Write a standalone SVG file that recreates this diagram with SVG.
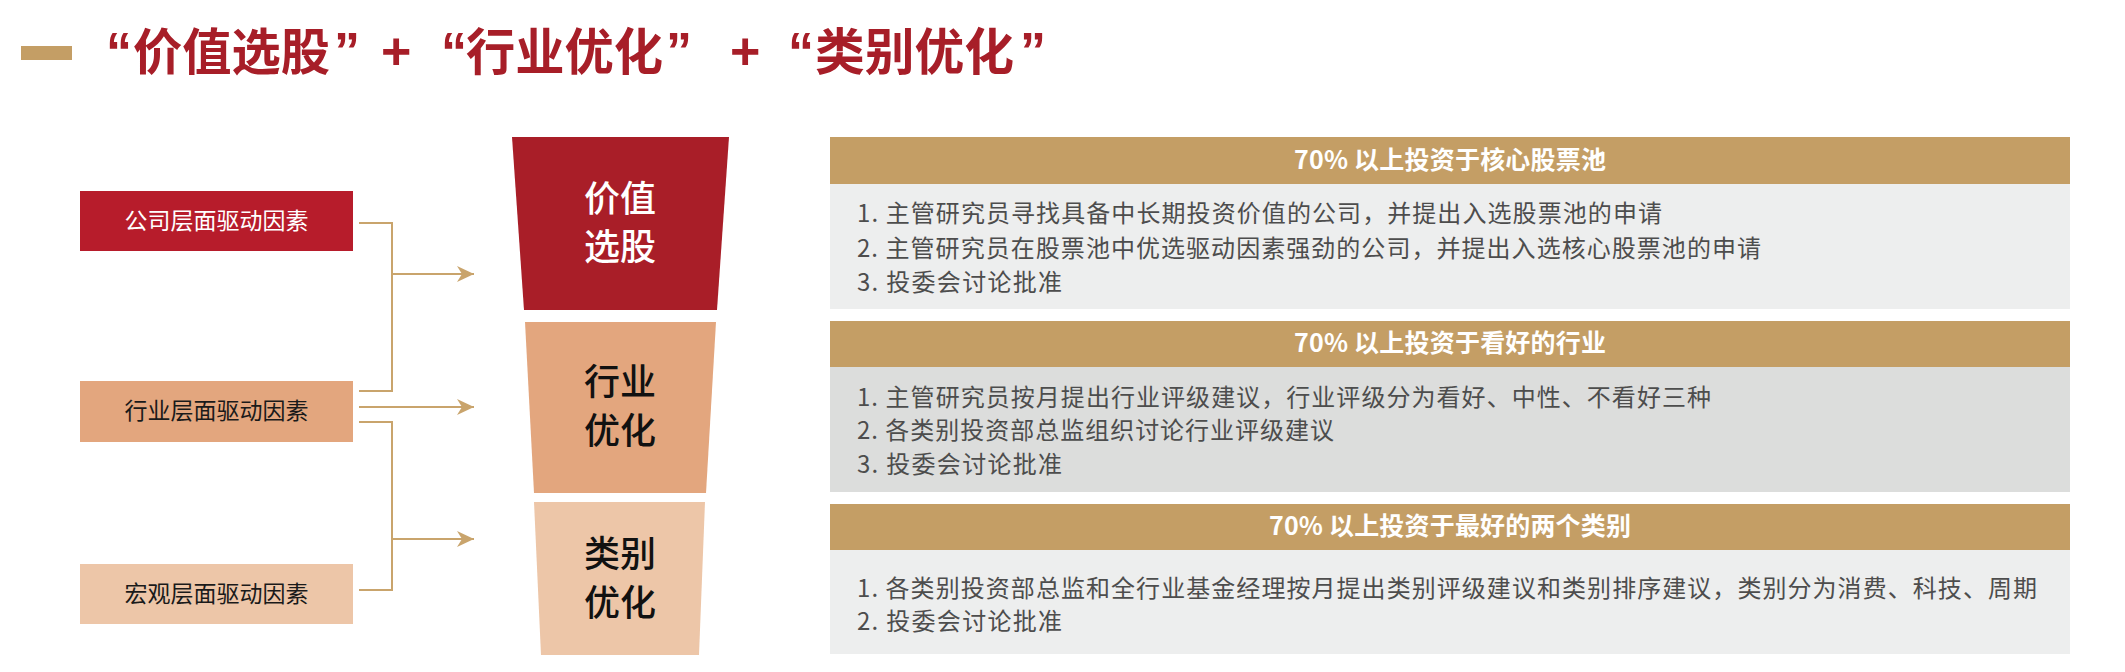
<svg xmlns="http://www.w3.org/2000/svg" width="2125" height="672" viewBox="0 0 2125 672">
<style>
.title{font-family:"Noto Sans CJK SC","Liberation Sans",sans-serif;font-size:50px;font-weight:700;fill:#A71E28}
.qt{font-family:"Liberation Sans","Noto Sans CJK SC",sans-serif;font-size:52px;font-weight:700;fill:#A71E28}
.lbl{font-family:"Noto Sans CJK SC","Liberation Sans",sans-serif;font-size:23px;text-anchor:middle}
.fun{font-family:"Noto Sans CJK SC","Liberation Sans",sans-serif;font-size:36px;font-weight:500;text-anchor:middle}
.hdr{font-family:"Noto Sans CJK SC","Liberation Sans",sans-serif;font-size:25px;font-weight:700;fill:#FFFFFF;text-anchor:middle}
.body{font-family:"Noto Sans CJK SC","Liberation Sans",sans-serif;font-size:24px;fill:#4D4D4D}
.conn{fill:none;stroke:#C9A46C;stroke-width:2}
.gold{fill:#C49E65}
</style>
<defs>
<marker id="arr" markerUnits="userSpaceOnUse" markerWidth="18" markerHeight="16" refX="17" refY="8" orient="auto">
<path d="M0,0 L17,8 L0,16 L5,8 Z" fill="#C9A46C"/>
</marker>
</defs>
<rect width="2125" height="672" fill="#FFFFFF"/>

<g id="title">
<rect x="21" y="46" width="51" height="14" class="gold"/>
<text x="106" y="69" class="qt">“</text>
<text x="133" y="70" class="title" textLength="197" lengthAdjust="spacingAndGlyphs">价值选股</text>
<text x="334" y="69" class="qt">”</text>
<text x="381" y="69" class="qt">+</text>
<text x="441" y="69" class="qt">“</text>
<text x="466" y="70" class="title" textLength="197" lengthAdjust="spacingAndGlyphs">行业优化</text>
<text x="666" y="69" class="qt">”</text>
<text x="730" y="69" class="qt">+</text>
<text x="788" y="69" class="qt">“</text>
<text x="815" y="70" class="title" textLength="199" lengthAdjust="spacingAndGlyphs">类别优化</text>
<text x="1020" y="69" class="qt">”</text>
</g>

<g id="driver-company">
<rect x="80" y="191" width="273" height="60" fill="#B71C2B"/>
<text x="216.5" y="229" class="lbl" fill="#FFFFFF">公司层面驱动因素</text>
</g>
<g id="driver-industry">
<rect x="80" y="381" width="273" height="61" fill="#E3A67E"/>
<text x="216.5" y="419" class="lbl" fill="#1A1A1A">行业层面驱动因素</text>
</g>
<g id="driver-macro">
<rect x="80" y="564" width="273" height="60" fill="#EDC6A8"/>
<text x="216.5" y="602" class="lbl" fill="#1A1A1A">宏观层面驱动因素</text>
</g>

<g id="connectors">
<path class="conn" d="M359,223 H392 V391 H359"/>
<path class="conn" d="M392,274 H474" marker-end="url(#arr)"/>
<path class="conn" d="M359,407 H474" marker-end="url(#arr)"/>
<path class="conn" d="M359,422 H392 V590 H359"/>
<path class="conn" d="M392,539 H474" marker-end="url(#arr)"/>
</g>

<g id="funnel-value">
<polygon points="512,137 729,137 717,310 524,310" fill="#A91E28"/>
<text x="620" y="212" class="fun" fill="#FFFFFF">价值</text>
<text x="620" y="260" class="fun" fill="#FFFFFF">选股</text>
</g>
<g id="funnel-industry">
<polygon points="525,322 716,322 706,493 534,493" fill="#E3A67E"/>
<text x="620" y="395" class="fun" fill="#111111">行业</text>
<text x="620" y="444" class="fun" fill="#111111">优化</text>
</g>
<g id="funnel-category">
<polygon points="534,502 705,502 699,655 541,655" fill="#EDC6A8"/>
<text x="620" y="567" class="fun" fill="#111111">类别</text>
<text x="620" y="616" class="fun" fill="#111111">优化</text>
</g>

<g id="panel-value">
<rect x="830" y="137" width="1240" height="47" class="gold"/>
<rect x="830" y="184" width="1240" height="125" fill="#EDEEEE"/>
<text x="1450" y="169" class="hdr" textLength="312" lengthAdjust="spacing">70% 以上投资于核心股票池</text>
<text x="857" y="222" class="body" textLength="805" lengthAdjust="spacing">1. 主管研究员寻找具备中长期投资价值的公司，并提出入选股票池的申请</text>
<text x="857" y="257" class="body" textLength="904" lengthAdjust="spacing">2. 主管研究员在股票池中优选驱动因素强劲的公司，并提出入选核心股票池的申请</text>
<text x="857" y="291" class="body" textLength="205" lengthAdjust="spacing">3. 投委会讨论批准</text>
</g>

<g id="panel-industry">
<rect x="830" y="321" width="1240" height="46" class="gold"/>
<rect x="830" y="367" width="1240" height="125" fill="#DCDDDC"/>
<text x="1450" y="352" class="hdr" textLength="312" lengthAdjust="spacing">70% 以上投资于看好的行业</text>
<text x="857" y="406" class="body" textLength="854" lengthAdjust="spacing">1. 主管研究员按月提出行业评级建议，行业评级分为看好、中性、不看好三种</text>
<text x="857" y="439" class="body" textLength="477" lengthAdjust="spacing">2. 各类别投资部总监组织讨论行业评级建议</text>
<text x="857" y="473" class="body" textLength="205" lengthAdjust="spacing">3. 投委会讨论批准</text>
</g>

<g id="panel-category">
<rect x="830" y="504" width="1240" height="46" class="gold"/>
<rect x="830" y="550" width="1240" height="104" fill="#EDEEEE"/>
<text x="1450" y="535" class="hdr" textLength="362" lengthAdjust="spacing">70% 以上投资于最好的两个类别</text>
<text x="857" y="597" class="body" textLength="1180" lengthAdjust="spacing">1. 各类别投资部总监和全行业基金经理按月提出类别评级建议和类别排序建议，类别分为消费、科技、周期</text>
<text x="857" y="630" class="body" textLength="205" lengthAdjust="spacing">2. 投委会讨论批准</text>
</g>
</svg>
